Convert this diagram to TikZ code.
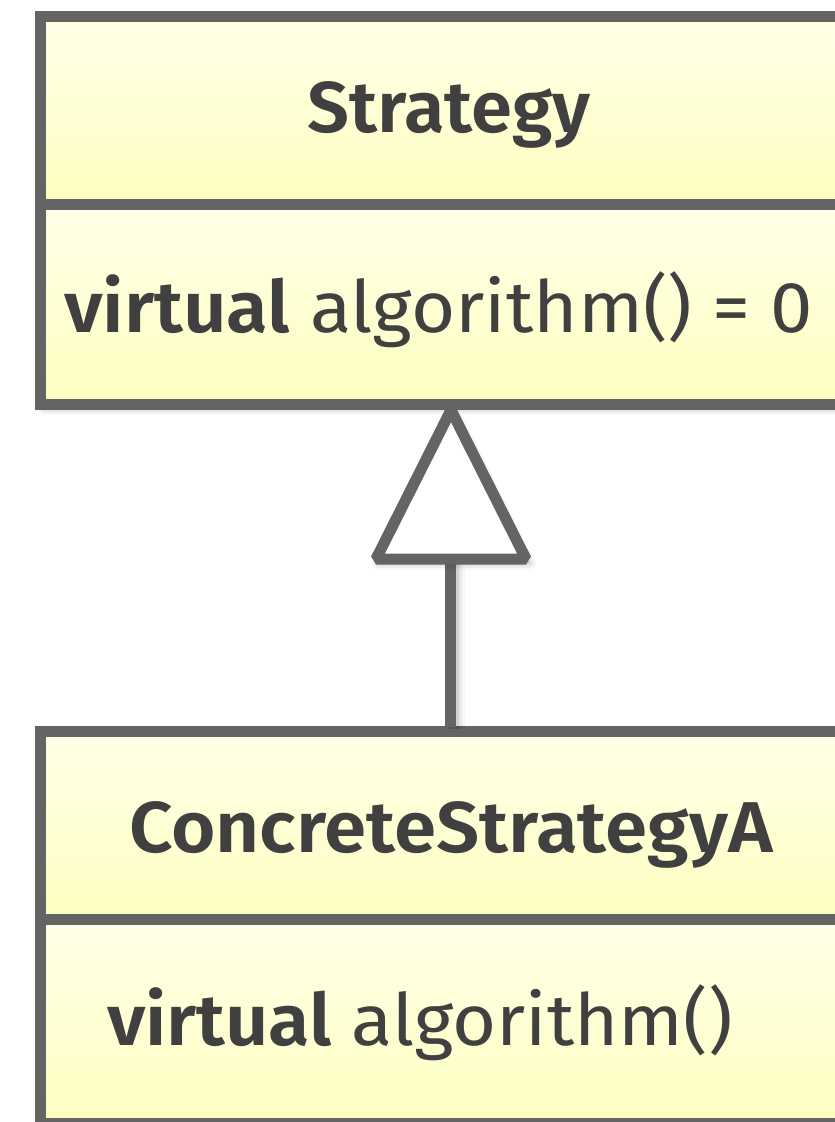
\documentclass[tikz,border=0pt]{standalone}
\usepackage{fontspec}
\setmainfont{Fira Sans}[BoldFont={Fira Sans SemiBold}]
\usetikzlibrary{shadows.blur}
\definecolor{umlline}{RGB}{100,100,100}
\definecolor{umltext}{RGB}{64,64,64}
\definecolor{fillhi}{RGB}{255,255,233}
\definecolor{filllo}{RGB}{254,254,192}
\newcommand{\widen}[2]{\scalebox{#1}[1]{#2}}
\tikzset{
  umlshadow/.style={blur shadow={shadow xshift=3pt, shadow yshift=-4pt,
      shadow blur radius=7pt, shadow opacity=35}},
  classframe/.style={rectangle, draw=umlline, line width=11pt, fill=white,
      inner sep=0pt, outer sep=0pt, anchor=north west, umlshadow},
  frameline/.style={draw=umlline, line width=11pt},
  compartment/.style={rectangle, inner sep=0pt, outer sep=0pt, anchor=north west,
      top color=fillhi, bottom color=filllo, minimum width=817.5pt},
  umltxt/.style={inner sep=0pt, outer sep=0pt, text=umltext,
      font=\fontsize{72}{86}\selectfont},
  gen/.style={draw=umlline, line width=11pt, line join=bevel},
}
\begin{document}
\begin{tikzpicture}[x=1pt,y=-1pt]
\useasboundingbox (0,0) rectangle (835,1122);
\clip (0,0) rectangle (835,1122);

% ---- class Strategy ----
\node[classframe, minimum width=817.5pt, minimum height=388pt] (strategy) at (40.5,16) {};
\node[compartment, minimum height=188pt] (strategyName) at (strategy.north west) {};
\node[compartment, minimum height=200pt] (strategyOps) at (strategyName.south west) {};
\draw[frameline] (strategy.north west) rectangle (strategy.south east);
\draw[frameline] (strategyName.south west) -- (strategyName.south east);
\node[umltxt, anchor=base] (strategyTitle) at (449,132) {\widen{1.03}{\bfseries Strategy}};
\node[umltxt, anchor=base west] (strategyOp) at (64,332) {\widen{1.055}{\textbf{virtual} algorithm() = 0}};

% ---- class ConcreteStrategyA ----
\node[classframe, minimum width=817.5pt, minimum height=392pt] (concrete) at (40.5,731) {};
\node[compartment, minimum height=188pt] (concreteName) at (concrete.north west) {};
\node[compartment, minimum height=204pt] (concreteOps) at (concreteName.south west) {};
\draw[frameline] (concrete.north west) rectangle (concrete.south east);
\draw[frameline] (concreteName.south west) -- (concreteName.south east);
\node[umltxt, anchor=base] (concreteTitle) at (451,852) {\widen{1.06}{\bfseries ConcreteStrategyA}};
\node[umltxt, anchor=base west] (concreteOp) at (107,1045) {\widen{1.05}{\textbf{virtual} algorithm()}};

% ---- generalization ----
\coordinate (tip) at (451,410);
\coordinate (baseL) at (376,559);
\coordinate (baseR) at (526,559);
\coordinate (baseM) at (450.5,559);
\coordinate (stemfoot) at (450.5,727);
\foreach \d/\o in {3/0.10,6/0.06,9/0.03}
  \draw[line width=11pt, draw=black, opacity=\o] ([xshift=\d pt]baseM) -- ([xshift=\d pt, yshift=-2pt]stemfoot);
\draw[gen] (stemfoot) -- (baseM);
\draw[gen, fill=white, umlshadow] (tip) -- (baseL) -- (baseR) -- cycle;
\draw[frameline] (strategy.south west) -- (strategy.south east);
\end{tikzpicture}
\end{document}
